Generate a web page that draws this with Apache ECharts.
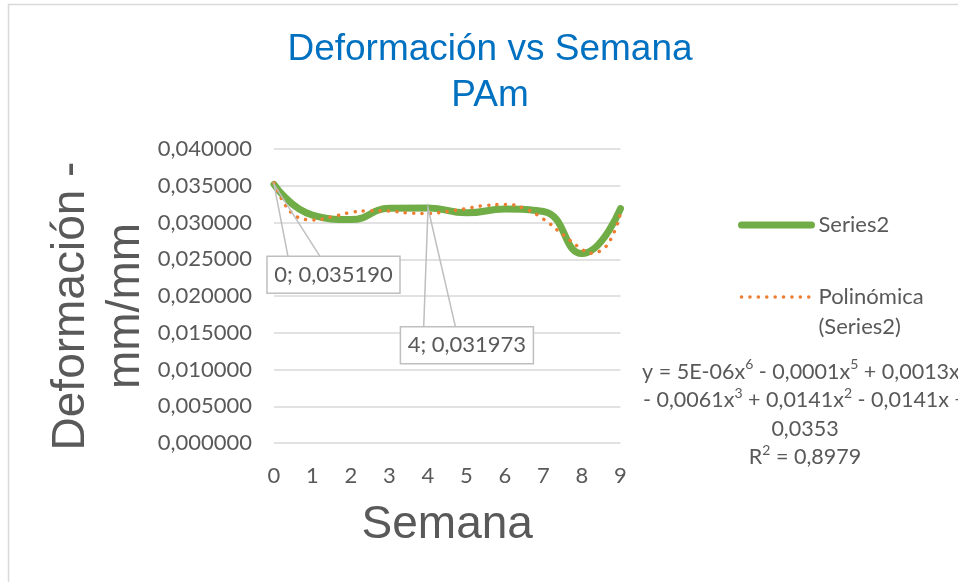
<!DOCTYPE html>
<html><head><meta charset="utf-8">
<script src="https://cdn.jsdelivr.net/npm/echarts@6/dist/echarts.min.js"></script>
<style>html,body{margin:0;padding:0;background:#fff}#c{width:958px;height:582px}</style>
</head><body><div id="c"></div>
<script>
// ---- data ----
const weeks = [0, 1, 2, 3, 4, 5, 6, 7, 8, 9];
const deformation = [0.035190, 0.03101, 0.03040, 0.03193, 0.031973, 0.03132, 0.03182, 0.03150, 0.02578, 0.03190];
const trendX = [0, 0.25, 0.5, 0.75, 1, 1.5, 2, 2.5, 3, 3.5, 4, 4.5, 5, 5.5, 6, 6.5, 7, 7.5, 8, 8.25, 8.5, 8.75, 9];
const trendY = [0.03536, 0.03273, 0.03114, 0.03050, 0.03033, 0.03078, 0.03136, 0.03159, 0.03155, 0.03130, 0.03123, 0.03150, 0.03190, 0.03232, 0.03244, 0.03191, 0.03046, 0.02837, 0.02637, 0.02583, 0.02624, 0.02774, 0.03128];
const labelledWeeks = [0, 4];
const yMin = 0, yMax = 0.04, yStep = 0.005;
const xMin = 0, xMax = 9, xStep = 1;
const seriesName = 'Series2';
const trendName = 'Polinómica (Series2)';
const titleText = 'Deformación vs Semana\nPAm';
const xTitle = 'Semana';
const yTitle = 'Deformación -\nmm/mm';
const equationLines = [
  'y = 5E-06x{sup|6} - 0,0001x{sup|5} + 0,0013x{sup|4}',
  '- 0,0061x{sup|3} + 0,0141x{sup|2} - 0,0141x +',
  '0,0353',
  'R{sup|2} = 0,8979'
];

// ---- styling ----
const grey = '#595959';
const calloutStyle = [
  { dx: -7, dy: 72, w: 133, h: 37, wedge: [14, 46] },
  { dx: -27.6, dy: 118.7, w: 133, h: 37, wedge: [-4.3, 27.4] }
];
const fmt = v => v.toFixed(6).replace('.', ',');

const chart = echarts.init(document.getElementById('c'), null, { renderer: 'canvas' });
chart.setOption({
  backgroundColor: '#fff',
  animation: false,
  title: {
    text: titleText, left: 490, top: 27, padding: 0, textAlign: 'center',
    textStyle: { fontFamily: 'Liberation Sans', fontSize: 37, fontWeight: 'normal', color: '#0070C0', lineHeight: 46 }
  },
  grid: { left: 274, right: 337.5, top: 149, bottom: 139, containLabel: false },
  xAxis: {
    type: 'value', min: xMin, max: xMax, interval: xStep,
    name: xTitle, nameLocation: 'middle', nameGap: 59,
    nameTextStyle: { fontFamily: 'Liberation Sans', fontSize: 46, color: grey },
    axisLine: { show: false }, axisTick: { show: false }, splitLine: { show: false },
    axisLabel: { fontFamily: 'Lato', fontSize: 22, color: grey, margin: 22 }
  },
  yAxis: {
    type: 'value', min: yMin, max: yMax, interval: yStep,
    name: yTitle, nameLocation: 'middle', nameGap: 116, nameRotate: 90,
    nameTextStyle: { fontFamily: 'Liberation Sans', fontSize: 46, color: grey, lineHeight: 55, padding: [0, 20, 0, 0] },
    axisLine: { show: false }, axisTick: { show: false },
    splitLine: { lineStyle: { color: '#D9D9D9', width: 1.5 } },
    axisLabel: { fontFamily: 'Lato', fontSize: 22, color: grey, margin: 22, formatter: v => fmt(v) }
  },
  legend: {
    orient: 'vertical', left: 738, top: 210, padding: 0, itemWidth: 70, itemHeight: 14, itemGap: 12,
    selectedMode: false,
    data: [
      { name: seriesName, itemStyle: { opacity: 0 }, lineStyle: { width: 7, color: '#70AD47', cap: 'round' } },
      { name: trendName, itemStyle: { opacity: 0 }, lineStyle: { width: 3.5, color: '#ED7D31', type: [0.1, 8.3], cap: 'round' } }
    ],
    formatter: n => n === trendName ? '\u00a0\nPolinómica\n(Series2)' : n,
    textStyle: { fontFamily: 'Lato', fontSize: 22, color: grey, lineHeight: 30, padding: [0, 0, 0, 2] }
  },
  graphic: [
    { type: 'rect', silent: true, shape: { x: 8.5, y: 4.5, width: 1000, height: 700 }, style: { fill: null, stroke: '#D9D9D9', lineWidth: 1.5 }, z: -1 },
    { type: 'text', silent: true, x: 805, y: 357.75,
      style: { text: equationLines.join('\n'), align: 'center', verticalAlign: 'top',
        fontFamily: 'Lato', fontSize: 21.5, lineHeight: 28.5, fill: grey,
        rich: { sup: { fontFamily: 'Lato', fontSize: 14, lineHeight: 16, verticalAlign: 'top', fill: grey } } } }
  ],
  series: [
    {
      name: seriesName, type: 'line', smooth: 0.5, symbol: 'none',
      data: weeks.map((w, i) => [w, deformation[i]]),
      lineStyle: { color: '#70AD47', width: 7, cap: 'round', join: 'round' },
      itemStyle: { color: '#70AD47' }, z: 2
    },
    {
      name: trendName, type: 'line', smooth: 0.5, symbol: 'none',
      data: trendX.map((x, i) => [x, trendY[i]]),
      lineStyle: { color: '#ED7D31', width: 3.5, type: [0.1, 8.3], cap: 'round' },
      itemStyle: { color: '#ED7D31' }, z: 3
    },
    {
      name: 'labels', type: 'custom', coordinateSystem: 'cartesian2d', silent: true, clip: false, z: 5,
      data: labelledWeeks.map(w => [w, deformation[weeks.indexOf(w)]]),
      renderItem: (params, api) => {
        const x = api.value(0), y = api.value(1);
        const p = api.coord([x, y]);
        const b = calloutStyle[params.dataIndex];
        const top = p[1] + b.dy, left = p[0] + b.dx;
        return {
          type: 'group', children: [
            { type: 'polyline', shape: { points: [[p[0] + b.wedge[0], top], [p[0], p[1]], [p[0] + b.wedge[1], top]] },
              style: { stroke: '#BFBFBF', lineWidth: 1.5, fill: null } },
            { type: 'rect', shape: { x: left, y: top, width: b.w, height: b.h },
              style: { fill: '#fff', stroke: '#BFBFBF', lineWidth: 1.5 } },
            { type: 'text', style: { x: left + b.w / 2, y: top + b.h / 2, text: x + '; ' + fmt(y),
              align: 'center', verticalAlign: 'middle', fontFamily: 'Lato', fontSize: 22, fill: grey } }
          ]
        };
      }
    }
  ]
});
</script></body></html>
